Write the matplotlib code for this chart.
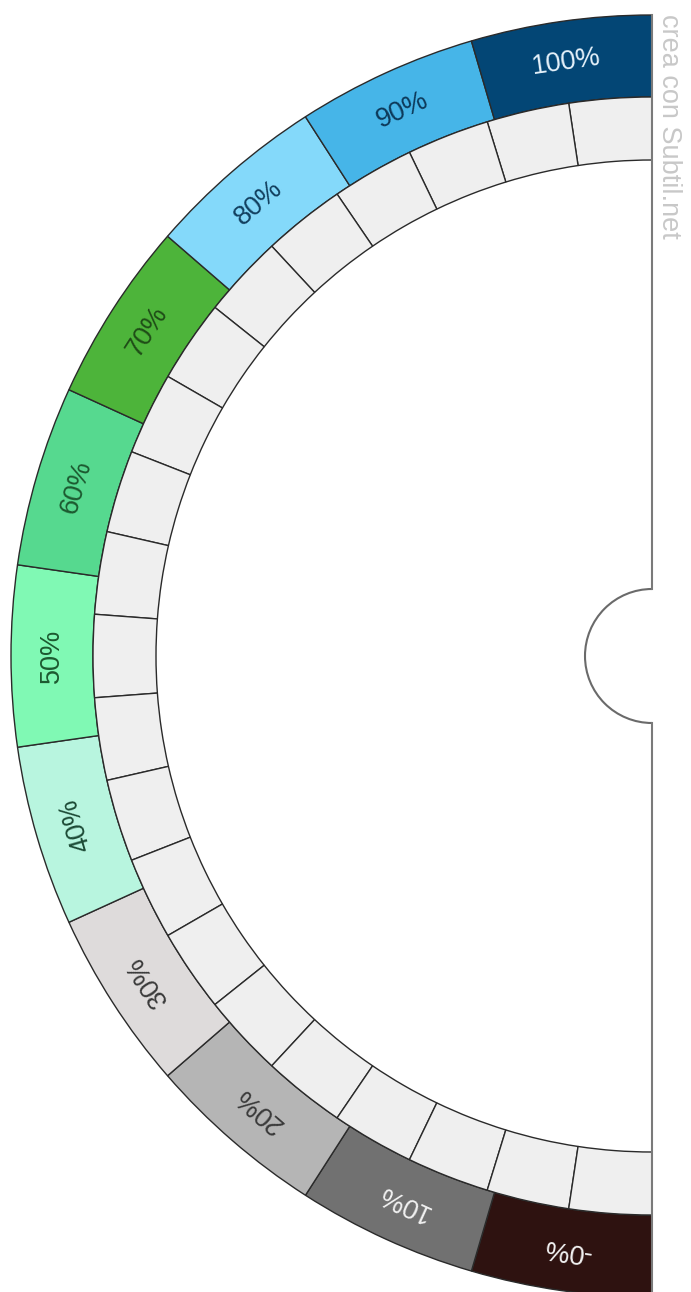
import numpy as np
import matplotlib.pyplot as plt
from matplotlib.patches import Wedge, Arc

labels = ['-0%', '10%', '20%', '30%', '40%', '50%', '60%', '70%', '80%', '90%', '100%']
colors = ['#2e1210', '#717171', '#b5b5b5', '#dedbdb', '#b8f5df', '#80f9b4',
          '#56d98f', '#4db43a', '#84d9fa', '#46b5e8', '#034675']
text_colors = ['#f2f2f2', '#f2f2f2', '#3a3a3a', '#3a3a3a', '#1c4a35', '#1d5a30',
               '#1c5a30', '#1f4d17', '#123f5e', '#0d3a5a', '#e6f2fb']
n_cells = 21
watermark = 'crea con Subtil.net'

plt.rcParams['font.family'] = ['Liberation Sans', 'DejaVu Sans']

W, H = 691, 1292
cx, cy = 652, 656
r_out, r_mid, r_in, r_hole = 641, 559, 496, 67

fig = plt.figure(figsize=(W / 100, H / 100), dpi=100)
ax = fig.add_axes([0, 0, 1, 1])
ax.set_xlim(-cx, W - cx)
ax.set_ylim(cy - H, cy)
ax.set_aspect('equal')
ax.axis('off')

# outer coloured band, from bottom (270 deg) to top (90 deg)
step = 180 / len(labels)
for i, (lab, c, tc) in enumerate(zip(labels, colors, text_colors)):
    t2 = 270 - i * step
    t1 = t2 - step
    ax.add_patch(Wedge((0, 0), r_out, t1, t2, width=r_out - r_mid,
                       facecolor=c, edgecolor='#2a2a2a', lw=1.0))
    mid = np.radians((t1 + t2) / 2)
    rr = (r_out + r_mid) / 2
    ax.text(rr * np.cos(mid), rr * np.sin(mid), lab, rotation=np.degrees(mid) - 90,
            rotation_mode='anchor', ha='center', va='center',
            fontsize=19.5, color=tc)

# inner grey cells
cstep = 180 / n_cells
for j in range(n_cells):
    t1 = 90 + j * cstep
    ax.add_patch(Wedge((0, 0), r_mid, t1, t1 + cstep, width=r_mid - r_in,
                       facecolor='#efefef', edgecolor='#2a2a2a', lw=1.0))

# straight edge with the central notch
ax.plot([0, 0], [r_out, r_hole], color='#7a7a7a', lw=1.5)
ax.plot([0, 0], [-r_hole, -r_out], color='#7a7a7a', lw=1.5)
ax.add_patch(Arc((0, 0), 2 * r_hole, 2 * r_hole, theta1=90, theta2=270,
                 color='#6a6a6a', lw=1.5))

ax.text(669 - cx, cy - 14, watermark, rotation=-90, ha='center', va='top',
        fontsize=19.5, color='#c8c8c8')

fig.savefig('out.png', dpi=100)
